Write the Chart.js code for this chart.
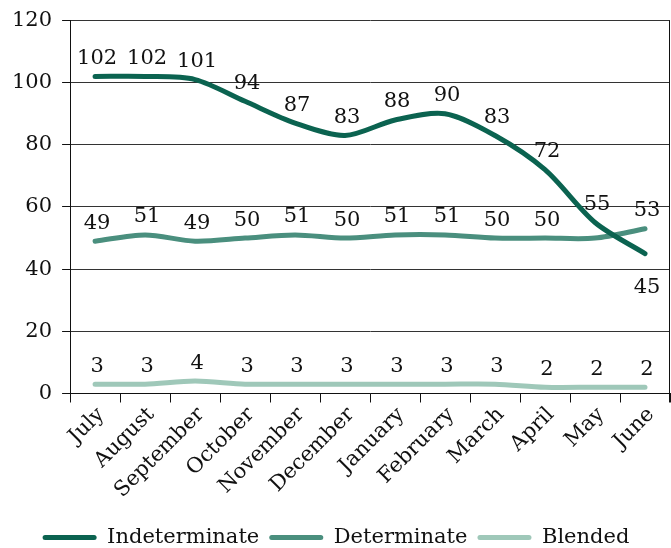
<!DOCTYPE html>
<html>
<head>
<meta charset="utf-8">
<script src="https://cdn.jsdelivr.net/npm/chart.js@4"></script>
<style>
  html, body { margin: 0; padding: 0; background: #fff; }
  #wrap { width: 671px; height: 548px; }
</style>
</head>
<body>
<div id="wrap"><canvas id="myChart"></canvas></div>
<script>
const months = [
  'July', 'August', 'September', 'October', 'November', 'December',
  'January', 'February', 'March', 'April', 'May', 'June',
];

const indeterminate = [102, 102, 101, 94, 87, 83, 88, 90, 83, 72, 55, 45];
const determinate = [49, 51, 49, 50, 51, 50, 51, 51, 50, 50, 50, 53];
const blended = [3, 3, 4, 3, 3, 3, 3, 3, 3, 2, 2, 2];

const yTicks = [0, 20, 40, 60, 80, 100, 120];

const FONT = 'DejaVu Serif';
const FONT_SIZE = 21;

// label position for each point: 'above', 'below' or null (no label)
const indeterminatePos = ['above', 'above', 'above', 'above', 'above', 'above',
  'above', 'above', 'above', 'above', 'above', 'below'];
const determinatePos = ['above', 'above', 'above', 'above', 'above', 'above',
  'above', 'above', 'above', 'above', null, 'above'];
const blendedPos = months.map(() => 'above');

const valueLabels = {
  id: 'valueLabels',
  afterDatasetsDraw(chart) {
    const ctx = chart.ctx;
    ctx.save();
    ctx.font = FONT_SIZE + 'px "' + FONT + '"';
    ctx.fillStyle = '#111';
    ctx.textAlign = 'center';
    ctx.textBaseline = 'middle';
    chart.data.datasets.forEach((ds, i) => {
      const meta = chart.getDatasetMeta(i);
      meta.data.forEach((pt, j) => {
        const pos = ds.labelPos[j];
        if (!pos) return;
        const dy = pos === 'below' ? 34 : -18;
        ctx.fillText(String(ds.data[j]), pt.x + 2, pt.y + dy);
      });
    });
    ctx.restore();
  }
};

// right-hand frame line of the plot area, and legend nudged toward the bottom edge
const frameAndLegend = {
  id: 'frameAndLegend',
  afterLayout(chart) {
    const lg = chart.legend;
    if (lg) {
      lg.top += 20;
      lg.bottom += 20;
    }
  },
  beforeDatasetsDraw(chart) {
    const { ctx, chartArea } = chart;
    ctx.save();
    ctx.strokeStyle = '#111';
    ctx.lineWidth = 1;
    ctx.beginPath();
    ctx.moveTo(chartArea.right - 0.5, chartArea.top);
    ctx.lineTo(chartArea.right - 0.5, chartArea.bottom + 9);
    ctx.stroke();
    ctx.restore();
  }
};

const lineStyle = {
  borderWidth: 5,
  pointRadius: 0,
  pointHoverRadius: 0,
  tension: 0.3,
  borderCapStyle: 'round',
  fill: false,
};

const data = {
  labels: months,
  datasets: [{
    label: 'Indeterminate',
    data: indeterminate,
    borderColor: '#0b6350',
    backgroundColor: '#0b6350',
    labelPos: indeterminatePos,
    ...lineStyle,
  }, {
    label: 'Determinate',
    data: determinate,
    borderColor: '#4a8f7e',
    backgroundColor: '#4a8f7e',
    labelPos: determinatePos,
    ...lineStyle,
  }, {
    label: 'Blended',
    data: blended,
    borderColor: '#9fc8b9',
    backgroundColor: '#9fc8b9',
    labelPos: blendedPos,
    ...lineStyle,
  }]
};

const config = {
  type: 'line',
  data: data,
  options: {
    responsive: true,
    maintainAspectRatio: false,
    animation: false,
    layout: { padding: { top: 0, right: 1, left: 2, bottom: 10 } },
    scales: {
      x: {
        offset: true,
        afterFit(scale) {
          scale.height -= 6;
        },
        grid: {
          offset: true,
          drawOnChartArea: false,
          color: '#111',
          tickLength: 9,
          tickColor: '#111',
        },
        border: { color: '#111', width: 1 },
        ticks: {
          color: '#111',
          font: { family: FONT, size: FONT_SIZE },
          maxRotation: 45,
          minRotation: 45,
          padding: 0,
          labelOffset: 6,
        },
      },
      y: {
        min: 0,
        max: 120,
        afterBuildTicks(axis) {
          axis.ticks = yTicks.map(v => ({ value: v }));
        },
        grid: {
          color: '#333',
          lineWidth: 1,
          tickLength: 8,
          tickColor: '#111',
        },
        border: { color: '#111', width: 1 },
        ticks: {
          color: '#111',
          font: { family: FONT, size: FONT_SIZE, lineHeight: 1 },
          padding: 10,
        },
      },
    },
    plugins: {
      legend: {
        position: 'bottom',
        labels: {
          color: '#111',
          font: { family: FONT, size: FONT_SIZE },
          boxWidth: 54,
          boxHeight: 5,
          padding: 10,
          generateLabels(chart) {
            return chart.data.datasets.map((ds, i) => ({
              text: ds.label,
              fillStyle: ds.borderColor,
              strokeStyle: ds.borderColor,
              lineWidth: 0,
              borderRadius: 2.5,
              fontColor: '#111',
              hidden: false,
              datasetIndex: i,
            }));
          },
        },
      },
      tooltip: { enabled: false },
    },
  },
  plugins: [valueLabels, frameAndLegend],
};

const myChart = new Chart(
  document.getElementById('myChart'),
  config
);
</script>
</body>
</html>
